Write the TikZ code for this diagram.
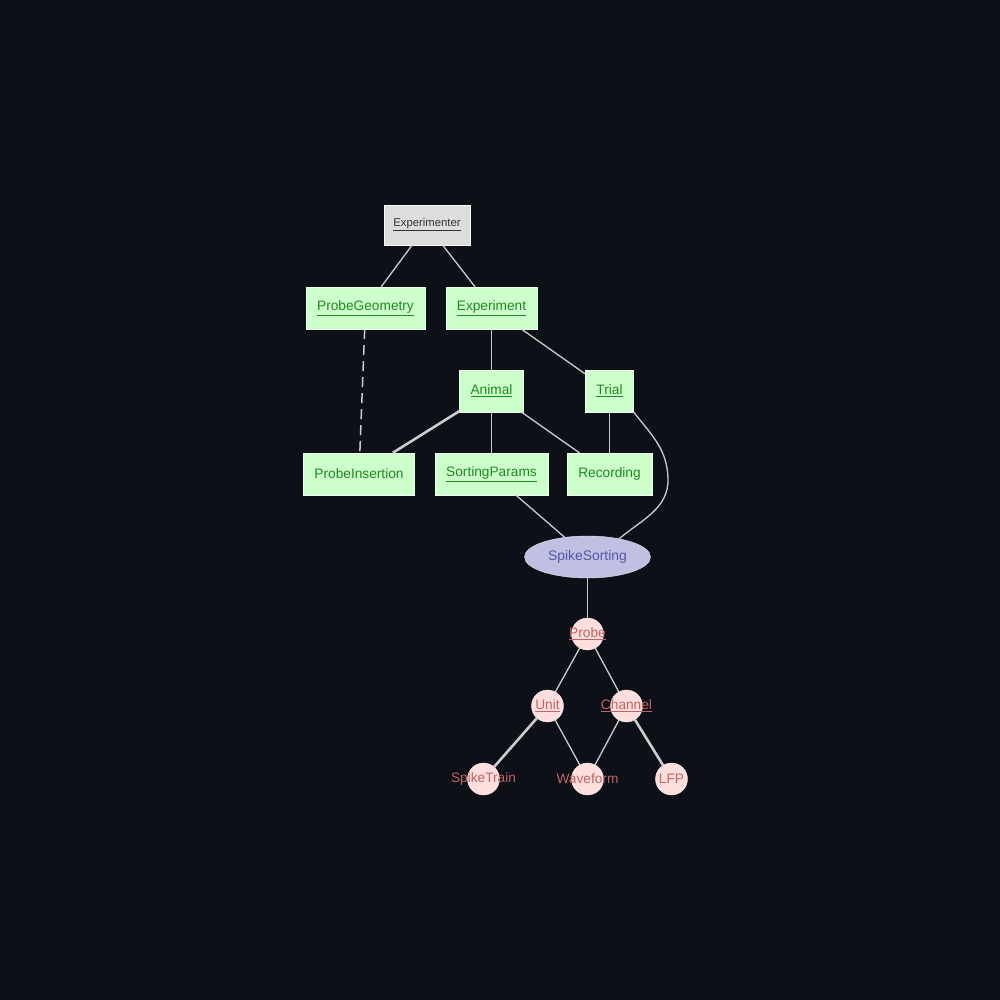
\documentclass[tikz,border=0pt]{standalone}
\usepackage{fontspec}
\setmainfont{Liberation Sans}
\usetikzlibrary{positioning,shapes.geometric}

\definecolor{bgdark}{HTML}{0D1017}
\definecolor{edgegrey}{HTML}{CCCCCC}
\definecolor{lookupfill}{HTML}{DDDDDD}
\definecolor{manualfill}{HTML}{CCFFCC}
\definecolor{manualtext}{HTML}{1E8A1E}
\definecolor{partfill}{HTML}{FFDEDE}
\definecolor{parttext}{HTML}{C06464}
\definecolor{compfill}{HTML}{C0C0E2}
\definecolor{comptext}{HTML}{5555AA}

\newcommand{\inside}[1]{\makebox[0pt]{#1}}

\tikzset{
  lookup/.style={draw=white!85!lookupfill, fill=lookupfill, text=black!80,
    font=\fontsize{11.3pt}{13pt}\selectfont, inner xsep=9.5pt,
    minimum height=40pt},
  manual/.style={draw=white!70!manualfill, fill=manualfill, text=manualtext,
    font=\fontsize{13.7pt}{16pt}\selectfont, inner xsep=11pt,
    minimum height=42pt},
  computed/.style={ellipse, draw=white!60!compfill, fill=compfill, text=comptext,
    font=\fontsize{13.9pt}{16pt}\selectfont, inner sep=0pt,
    minimum width=126pt, minimum height=42pt},
  part/.style={circle, draw=white!50!partfill, fill=partfill, text=parttext,
    font=\fontsize{13.7pt}{16pt}\selectfont, inner sep=0pt,
    minimum size=32pt},
  dep/.style={draw=edgegrey, line width=1.3pt},
  thickdep/.style={draw=edgegrey, line width=2.6pt},
  nonprimary/.style={draw=edgegrey, line width=1.5pt, dash pattern=on 10pt off 6pt}
}

\begin{document}
\begin{tikzpicture}[x=1pt,y=-1pt,node distance=83pt]
    \fill[bgdark] (0,0) rectangle (1000,1000);
    \useasboundingbox (0,0) rectangle (1000,1000);

    \node (Experimenter) [lookup] at (427,225) {\underline{Experimenter}};
    \node (ProbeGeometry) [manual, below of=Experimenter, xshift=-61.5pt] {\underline{ProbeGeometry}};
    \node (Experiment) [manual, below of=Experimenter, xshift=64.5pt] {\underline{Experiment}};

    \node (Animal) [manual, below of=Experiment] {\underline{Animal}};
    \node (Trial) [manual, right of=Animal, node distance=118pt] {\underline{Trial}};

    \node (SortingParams) [manual, below of=Animal] {\underline{SortingParams}};
    \node (Recording) [manual, below of=Trial] {Recording};
    \node (ProbeInsertion) [manual, left of=SortingParams, node distance=132.5pt] {ProbeInsertion};

    \node (SpikeSorting) [computed, below of=SortingParams, xshift=96pt] {SpikeSorting};

    \node (Probe) [part, below of=SpikeSorting, node distance=77pt] {\inside{\underline{Probe}}};
    \node (Unit) [part, below of=Probe, node distance=72pt, xshift=-40pt] {\inside{\underline{Unit}}};
    \node (Channel) [part, below of=Probe, node distance=72pt, xshift=39pt] {\inside{\underline{Channel}}};
    \node (Waveform) [part, below of=Probe, node distance=145pt] {\inside{Waveform}};
    \node (SpikeTrain) [part, left of=Waveform, node distance=104pt] {\inside{SpikeTrain}};
    \node (LFP) [part, right of=Waveform, node distance=84pt] {\inside{LFP}};

    \coordinate (bend) at (668,478);

    \draw[dep] (Experimenter) -- (ProbeGeometry);
    \draw[dep] (Experimenter) -- (Experiment);
    \draw[dep] (Experiment) -- (Animal);
    \draw[dep] (Experiment) -- (Trial);
    \draw[nonprimary] (ProbeGeometry) -- (ProbeInsertion);

    \draw[thickdep] (Animal) -- (ProbeInsertion);
    \draw[dep] (Animal) -- (SortingParams);
    \draw[dep] (Animal) -- (Recording);
    \draw[dep] (Trial) -- (Recording);
    \draw[dep] (Trial.south east) to[out=-52,in=92] (bend) to[out=-88,in=40] (SpikeSorting.30);
    \draw[dep] (SortingParams) -- (SpikeSorting);

    \draw[dep] (SpikeSorting) -- (Probe);
    \draw[dep] (Probe) -- (Unit);
    \draw[dep] (Probe) -- (Channel);
    \draw[thickdep] (Unit) -- (SpikeTrain);
    \draw[dep] (Unit) -- (Waveform);
    \draw[dep] (Channel) -- (Waveform);
    \draw[thickdep] (Channel) -- (LFP);
  \end{tikzpicture}
\end{document}
